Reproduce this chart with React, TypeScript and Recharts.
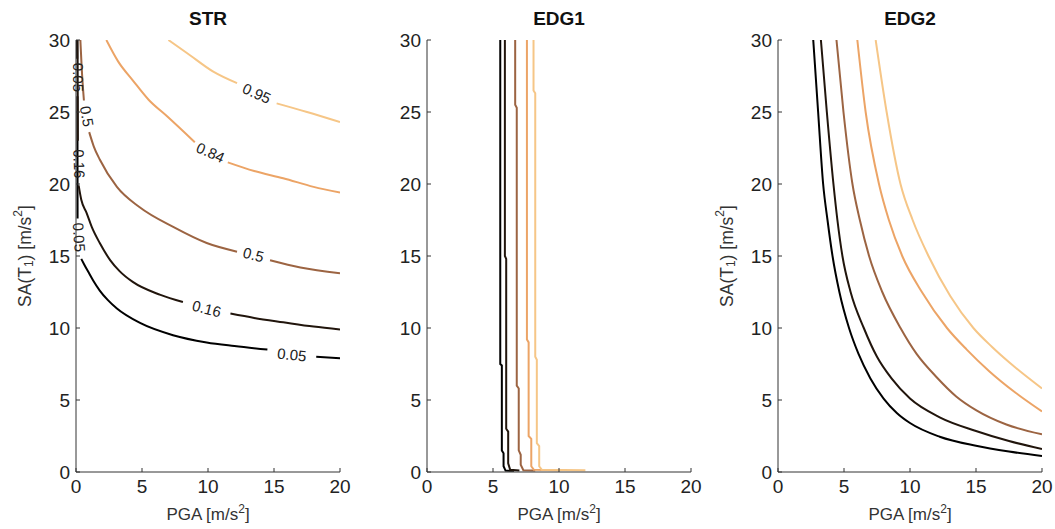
import React from 'react'
import { LineChart, Line, XAxis, YAxis, ReferenceDot, Label } from 'recharts'

type Pt = { x: number; y: number | null }
type Tuple = [number, number | null]

const xTicks = [0, 5, 10, 15, 20]
const yTicks = [0, 5, 10, 15, 20, 25, 30]

// contour levels and their copper colours
const levelNames = ['0.05', '0.16', '0.5', '0.84', '0.95']
const levelColors = ['#000000', '#21150c', '#9c6442', '#eca466', '#f6c687']

// STR contours (null = gap for the inline label)
const str05: Tuple[] = [[0.08, 30], [0.09, 28.7], [0.1, null], [0.11, 26.1], [0.12, 17.6], [0.25, null], [0.4, 14.8], [0.6, 14.45], [0.93, 13.9], [1.3, 13.3], [1.8, 12.6], [2.4, 11.95], [3.1, 11.35], [4.85, 10.35], [7.35, 9.5], [9.9, 9.0], [12, 8.75], [14.5, 8.5], [16, null], [18.2, 8.0], [20, 7.9]]
const str16: Tuple[] = [[0.12, 30], [0.14, 23.0], [0.17, null], [0.2, 19.9], [0.4, 18.9], [0.8, 18.0], [1.2, 17.0], [1.8, 15.9], [2.6, 14.7], [3.3, 13.95], [4.3, 13.2], [6.4, 12.3], [8.1, 11.8], [10, null], [11.7, 11.0], [13.5, 10.7], [15.7, 10.4], [18, 10.1], [20, 9.9]]
const str50: Tuple[] = [[0.33, 30], [0.43, 28.1], [0.6, 25.8], [0.8, null], [1.0, 23.6], [1.35, 22.6], [1.8, 21.7], [3.1, 19.8], [4.8, 18.4], [7.4, 17.0], [9.9, 15.9], [12.2, 15.3], [13.4, null], [14.7, 14.7], [17, 14.2], [20, 13.8]]
const str84: Tuple[] = [[2.3, 30], [3.2, 28.5], [4.3, 27.2], [5.5, 25.85], [6.9, 24.7], [9.0, 22.9], [10.2, null], [11.5, 21.5], [13.5, 20.9], [15.7, 20.4], [18, 19.8], [20, 19.4]]
const str95: Tuple[] = [[7.0, 30], [8.4, 29.1], [10.4, 27.8], [12.2, 27.0], [13.7, null], [15.2, 25.6], [17.5, 25.0], [20, 24.3]]

// EDG1 contours (stepped, nearly vertical)
const edg1_05: Tuple[] = [[5.55, 30], [5.55, 7.5], [5.67, 7.4], [5.67, 1.5], [5.8, 1.3], [5.8, 0.4], [5.95, 0.1], [6.6, 0.08]]
const edg1_16: Tuple[] = [[5.9, 30], [5.9, 15], [6.0, 14.8], [6.0, 3.0], [6.15, 2.8], [6.15, 0.6], [6.3, 0.15], [7.0, 0.1]]
const edg1_50: Tuple[] = [[6.68, 30], [6.68, 25.5], [6.8, 25.3], [6.8, 6.0], [6.95, 5.8], [6.95, 1.5], [7.1, 1.2], [7.1, 0.5], [7.3, 0.12], [8.2, 0.1]]
const edg1_84: Tuple[] = [[7.57, 30], [7.57, 9.2], [7.7, 9.0], [7.7, 2.5], [7.9, 2.3], [7.9, 0.4], [8.1, 0.15], [10, 0.12]]
const edg1_95: Tuple[] = [[8.07, 30], [8.07, 26.5], [8.2, 26.3], [8.2, 8.0], [8.32, 7.8], [8.32, 2.0], [8.5, 1.8], [8.5, 0.4], [8.7, 0.15], [12, 0.12]]

// EDG2 contours
const edg2_05: Tuple[] = [[2.67, 30], [3.04, 25], [3.42, 20], [3.75, 17.5], [4.13, 15], [4.65, 12.5], [5.38, 10], [6.1, 8.2], [7.0, 6.5], [8.0, 5.1], [9.0, 4.1], [10, 3.4], [12.25, 2.45], [15, 1.82], [17.5, 1.42], [20, 1.11]]
const edg2_16: Tuple[] = [[3.25, 30], [3.7, 25], [4.2, 20], [4.5, 17.5], [4.88, 15], [5.5, 12.5], [6.5, 10], [7.5, 8.0], [8.6, 6.5], [10, 5.1], [12.25, 3.8], [15, 2.85], [17.5, 2.15], [20, 1.6]]
const edg2_50: Tuple[] = [[4.43, 30], [4.96, 25], [5.64, 20], [6.2, 17.5], [6.9, 15], [7.9, 12.5], [9.28, 10], [10.5, 8.2], [12, 6.6], [13.5, 5.25], [15, 4.3], [17.3, 3.3], [20, 2.62]]
const edg2_84: Tuple[] = [[6.01, 30], [6.64, 25], [7.65, 20], [8.4, 17.5], [9.41, 15], [10.9, 12.5], [12.8, 10], [14.3, 8.5], [16, 7.0], [18, 5.5], [20, 4.2]]
const edg2_95: Tuple[] = [[7.4, 30], [8.23, 25], [9.28, 20], [10.2, 17.5], [11.4, 15], [13.06, 12.2], [14.8, 10], [16.2, 8.7], [17.6, 7.55], [20, 5.8]]

type ContourLabel = { text: string; x: number; y: number; angle: number }
const strLabels: ContourLabel[] = [
  { text: '0.95', x: 13.7, y: 26.3, angle: 24 },
  { text: '0.84', x: 10.2, y: 22.2, angle: 24 },
  { text: '0.5', x: 13.45, y: 15.1, angle: 14 },
  { text: '0.16', x: 9.9, y: 11.35, angle: 14 },
  { text: '0.05', x: 16.35, y: 8.15, angle: 6 },
  { text: '0.5', x: 0.83, y: 24.7, angle: 80 },
  { text: '0.16', x: 0.25, y: 21.4, angle: 88 },
  { text: '0.05', x: 0.24, y: 16.3, angle: 86 },
  { text: '0.05', x: 0.18, y: 27.4, angle: 90 },
]

const toPts = (t: Tuple[]): Pt[] => t.map(([x, y]) => ({ x, y }))

const font = '"Liberation Sans", Arial, sans-serif'
const tickStyle = { fontSize: 19, fill: '#222', fontFamily: font }

function XLabel(props: any) {
  const vb = props.viewBox
  const cx = vb.x + vb.width / 2
  return (
    <text x={cx} y={vb.y + 48} textAnchor="middle" fontSize={17} fontFamily={font} fill="#333">
      PGA [m/s<tspan dy={-7} fontSize={12}>2</tspan><tspan dy={7}>]</tspan>
    </text>
  )
}

function YLabel(props: any) {
  const vb = props.viewBox
  const cx = 25
  const cy = vb.y + vb.height / 2
  return (
    <text x={cx} y={cy} transform={`rotate(-90 ${cx} ${cy})`} textAnchor="middle" dominantBaseline="central" fontSize={17.5} fontFamily={font} fill="#333">
      SA(T<tspan dy={4} fontSize={12}>1</tspan><tspan dy={-4}>) [m/s</tspan><tspan dy={-7} fontSize={12}>2</tspan><tspan dy={7}>]</tspan>
    </text>
  )
}

function Panel({ left, title, series, labels, showY, curve }: { left: number; title: string; series: Tuple[][]; labels?: ContourLabel[]; showY: boolean; curve: 'monotone' | 'linear' }) {
  return (
    <div style={{ position: 'absolute', left, top: 0, width: 370, height: 529 }}>
      <div style={{ position: 'absolute', left: 76, width: 264, top: 7, lineHeight: '24px', textAlign: 'center', fontFamily: font, fontWeight: 'bold', fontSize: 19, color: '#111' }}>{title}</div>
      <LineChart width={370} height={529} margin={{ top: 40, right: 30, bottom: 0, left: 0 }}>
        <XAxis type="number" dataKey="x" domain={[0, 20]} ticks={xTicks} allowDataOverflow height={57} tickSize={-4} tickMargin={12} tick={tickStyle} stroke="#333" interval={0}>
          <Label content={XLabel} />
        </XAxis>
        <XAxis xAxisId="top" orientation="top" type="number" dataKey="x" domain={[0, 20]} ticks={xTicks} allowDataOverflow height={0} tickSize={-4} tick={false} stroke="#333" interval={0} />
        <YAxis type="number" domain={[0, 30]} ticks={yTicks} allowDataOverflow width={76} tickSize={-4} tickMargin={10} tick={tickStyle} stroke="#333" interval={0}>
          {showY && <Label content={YLabel} />}
        </YAxis>
        <YAxis yAxisId="right" orientation="right" type="number" domain={[0, 30]} ticks={yTicks} allowDataOverflow width={0} tickSize={-4} tick={false} stroke="#333" interval={0} />
        {series.map((s, i) => (
          <Line key={levelNames[i]} name={levelNames[i]} data={toPts(s)} dataKey="y" type={curve} stroke={levelColors[i]} strokeWidth={2} dot={false} isAnimationActive={false} connectNulls={false} />
        ))}
        {(labels || []).map((l, i) => (
          <ReferenceDot
            key={i}
            x={l.x}
            y={l.y}
            r={0}
            ifOverflow="visible"
            shape={(p: any) => (
              <text x={p.cx} y={p.cy} transform={`rotate(${l.angle} ${p.cx} ${p.cy})`} textAnchor="middle" dominantBaseline="central" fontSize={15} fontFamily={font} fill="#222">
                {l.text}
              </text>
            )}
          />
        ))}
      </LineChart>
    </div>
  )
}

export default function App() {
  return (
    <div style={{ position: 'absolute', left: 0, top: 0, width: 1055, height: 529, background: '#fff', overflow: 'hidden' }}>
      <Panel left={0} title="STR" series={[str05, str16, str50, str84, str95]} labels={strLabels} showY curve="monotone" />
      <Panel left={351} title="EDG1" series={[edg1_05, edg1_16, edg1_50, edg1_84, edg1_95]} showY={false} curve="linear" />
      <Panel left={702} title="EDG2" series={[edg2_05, edg2_16, edg2_50, edg2_84, edg2_95]} showY curve="monotone" />
    </div>
  )
}
